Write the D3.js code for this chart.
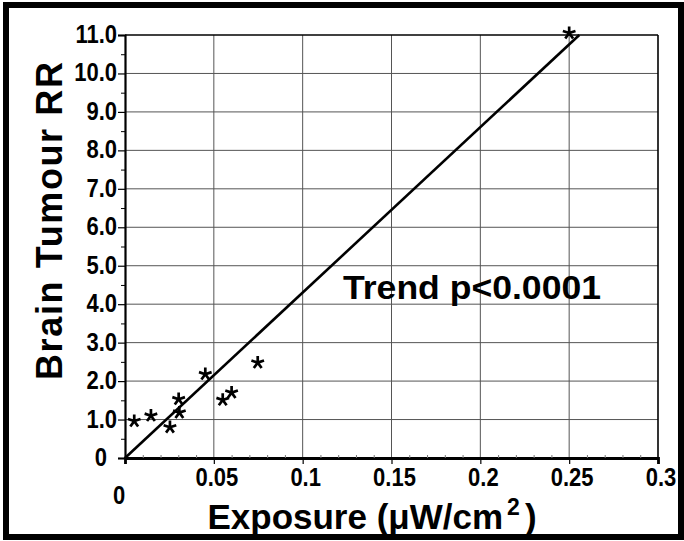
<!DOCTYPE html>
<html><head><meta charset="utf-8">
<script src="https://cdn.jsdelivr.net/npm/d3@7"></script>
<style>body{margin:0;background:#fff}svg{display:block}text{font-family:"Liberation Sans",Arial,sans-serif;font-weight:bold;fill:#000}</style>
</head><body><svg id="c" width="684" height="541"></svg>
<script>
const exposure = [0.0052, 0.0146, 0.0253, 0.0302, 0.0306, 0.0452, 0.055, 0.060, 0.0747, 0.250];
const rr       = [0.96,   1.10,   0.80,   1.53,   1.18,   2.18,   1.51,  1.70,  2.48,   11.05];
const trendX = [0, 0.2557];
const trendY = [0, 11];
const xTicks = [0, 0.05, 0.1, 0.15, 0.2, 0.25, 0.3];
const xTickLabels = ["0", "0.05", "0.1", "0.15", "0.2", "0.25", "0.3"];
const yTicks = [0,1,2,3,4,5,6,7,8,9,10,11];
const yTickLabels = ["0","1.0","2.0","3.0","4.0","5.0","6.0","7.0","8.0","9.0","10.0","11.0"];
const xTitle = "Exposure (\u03bcW/cm";
const yTitle = "Brain Tumour RR";
const note = "Trend p<0.0001";

const svg = d3.select("#c");
const x = d3.scaleLinear().domain([0, 0.3]).range([125, 658]);
const y = d3.scaleLinear().domain([0, 11]).range([458, 35]);

// frame
svg.append("rect").attr("x",6).attr("y",5).attr("width",675).attr("height",532)
  .attr("fill","none").attr("stroke","#000").attr("stroke-width",6);

// gridlines
svg.append("g").selectAll("line").data(yTicks.filter(d=>d>0 && d<11)).join("line")
  .attr("x1",x(0)).attr("x2",x(0.3)).attr("y1",d=>y(d)).attr("y2",d=>y(d))
  .attr("stroke","#555").attr("stroke-width",1);
svg.append("g").selectAll("line").data(xTicks.filter(d=>d>0 && d<0.3)).join("line")
  .attr("x1",d=>x(d)).attr("x2",d=>x(d)).attr("y1",y(0)).attr("y2",y(11))
  .attr("stroke","#555").attr("stroke-width",1);
// top & right border
svg.append("line").attr("x1",x(0)).attr("x2",x(0.3)).attr("y1",y(11)).attr("y2",y(11)).attr("stroke","#000").attr("stroke-width",1.6);
svg.append("line").attr("x1",x(0.3)).attr("x2",x(0.3)).attr("y1",y(11)).attr("y2",y(0)).attr("stroke","#000").attr("stroke-width",1.6);

// y axis
const yAxis = d3.axisLeft(y).tickValues(yTicks).tickSize(7).tickFormat("");
const gy = svg.append("g").attr("transform",`translate(${x(0)},0)`).call(yAxis);
gy.select(".domain").attr("stroke-width",2.2);
gy.selectAll(".tick line").attr("stroke-width",1.2);
const yMinor = d3.axisLeft(y).tickValues(d3.range(0.5, 11, 1)).tickSize(4).tickFormat("");
const gym = svg.append("g").attr("transform",`translate(${x(0)},0)`).call(yMinor);
gym.select(".domain").remove();
svg.append("g").selectAll("text").data(yTicks).join("text")
  .attr("transform",d=>`translate(${d===0?107:117},${y(d)+8}) scale(1,1.15)`)
  .attr("text-anchor","end")
  .attr("font-size",22).text((d,i)=>yTickLabels[i]);

// x axis
const xAxis = d3.axisBottom(x).tickValues(xTicks).tickSize(6).tickFormat("");
const gx = svg.append("g").attr("transform",`translate(0,${y(0)})`).call(xAxis);
gx.select(".domain").attr("stroke-width",2.8);
gx.selectAll(".tick line").attr("stroke-width",1.2);
const xMinor = d3.axisTop(x).tickValues(d3.range(0.01, 0.3, 0.01).filter(v=>Math.abs(v*20-Math.round(v*20))>1e-6)).tickSize(3).tickFormat("");
const gxm = svg.append("g").attr("transform",`translate(0,${y(0)})`).call(xMinor);
gxm.select(".domain").remove();
gxm.selectAll(".tick line").attr("stroke","#777");
svg.append("g").selectAll("text").data(xTicks).join("text")
  .attr("transform",d=>`translate(${d===0?x(d)-6:x(d)+3},${d===0?504:486}) scale(1,1.15)`)
  .attr("text-anchor","middle")
  .attr("font-size",22).text((d,i)=>xTickLabels[i]);

// trend line
svg.append("path").datum(trendX.map((v,i)=>[v,trendY[i]]))
  .attr("d", d3.line().x(d=>x(d[0])).y(d=>y(d[1])))
  .attr("stroke","#000").attr("stroke-width",2.6).attr("fill","none");

// asterisk markers (5 arms)
const star5 = {draw(ctx, size){ const r=Math.sqrt(size); for(let k=0;k<5;k++){ const a=-Math.PI/2+k*2*Math.PI/5; ctx.moveTo(0,0); ctx.lineTo(r*Math.cos(a), r*Math.sin(a)); } }};
svg.append("g").selectAll("path").data(exposure.map((v,i)=>[v,rr[i]])).join("path")
  .attr("transform",d=>`translate(${x(d[0])},${y(d[1])})`)
  .attr("d", d3.symbol().type(star5).size(44))
  .attr("stroke","#000").attr("stroke-width",2.7).attr("fill","none").attr("stroke-linecap","butt");

// titles
const xt = svg.append("text").attr("x",372).attr("y",529).attr("text-anchor","middle").attr("font-size",35);
xt.append("tspan").text(xTitle);
xt.append("tspan").attr("font-size",23).attr("dy",-14).attr("dx",4).text("2");
xt.append("tspan").attr("dy",14).attr("dx",5).text(")");
svg.append("text").attr("transform","translate(62,221) rotate(-90)").attr("text-anchor","middle")
  .attr("font-size",36).attr("textLength",318).attr("lengthAdjust","spacing").text(yTitle);
svg.append("text").attr("x",343).attr("y",299).attr("font-size",34)
  .attr("textLength",258).attr("lengthAdjust","spacingAndGlyphs").text(note);
</script></body></html>
